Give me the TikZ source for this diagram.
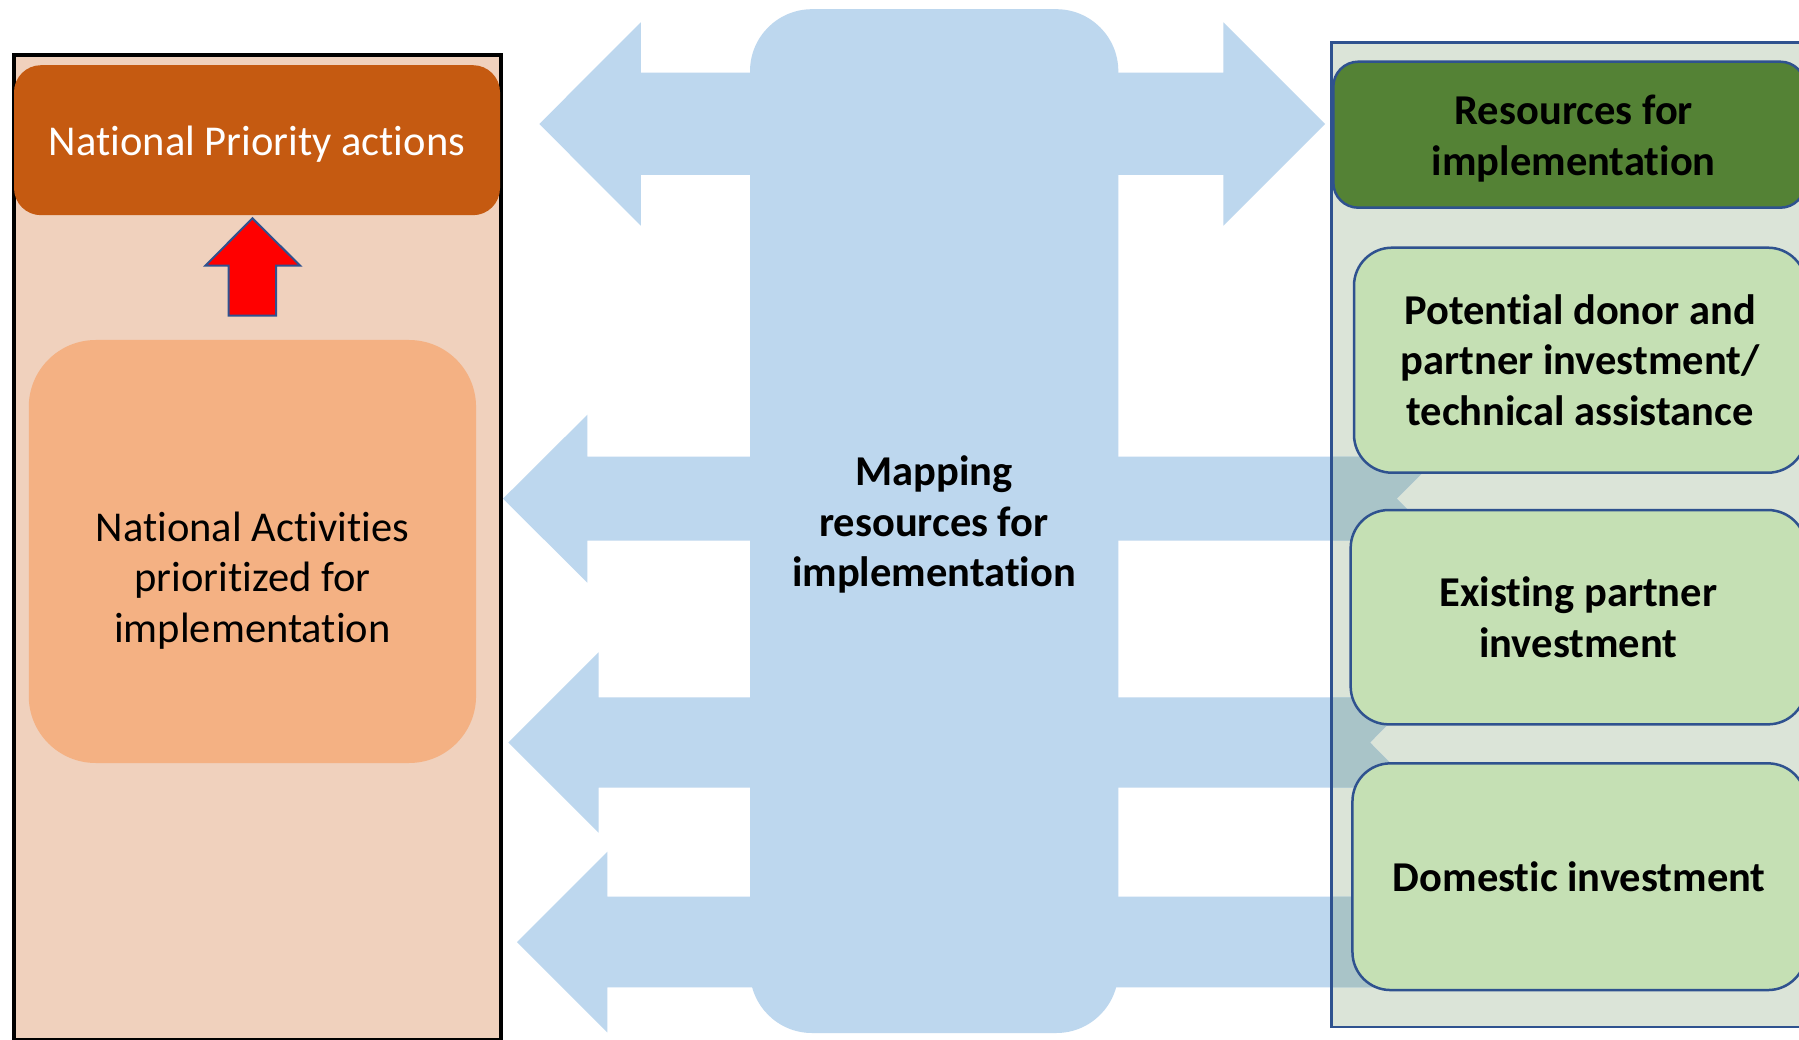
\documentclass[tikz,border=0pt]{standalone}
\usepackage{fontspec}
\setmainfont{Carlito}[Ligatures={NoCommon,NoContextual}]
\definecolor{panelfill}{HTML}{F0D1BD}
\definecolor{darkorange}{HTML}{C55A11}
\definecolor{lightorange}{HTML}{F4B183}
\definecolor{mapblue}{HTML}{BDD7EE}
\definecolor{overlapc}{HTML}{A9C4C8}
\definecolor{contfill}{HTML}{DBE4D8}
\definecolor{darkgreen}{HTML}{548235}
\definecolor{lightgreen}{HTML}{C5E0B4}
\definecolor{bordblue}{HTML}{2F528F}
\begin{document}
\begin{tikzpicture}[x=1pt,y=-1pt,
  bigfont/.style={font=\fontsize{42.5}{50.5}\selectfont},
  boldfont/.style={font=\fontsize{42.5}{50.5}\selectfont\bfseries},
  txt/.style={bigfont, align=center, inner sep=0pt},
  btxt/.style={boldfont, align=center, inner sep=0pt},
  plainbox/.style={rectangle, inner sep=0pt, outer sep=0pt},
  greenbox/.style={plainbox, draw=bordblue, line width=2.5pt, fill=lightgreen, rounded corners=38pt, btxt},
  mapfill/.style={fill=mapblue},
  overfill/.style={fill=overlapc}
]
\clip (0,0) rectangle (1799,1040);
\fill[white] (0,0) rectangle (1799,1040);

% ---------- left panel ----------
\node[plainbox, fill=panelfill, draw=black, line width=4pt,
      minimum width=487pt, minimum height=985pt] (panel) at (257.4,547.5) {};
\node[plainbox, fill=darkorange, rounded corners=27pt,
      minimum width=486pt, minimum height=150pt] (priority) at (257,140.2) {};
\node[txt, text=white] (prioritytext) at (257,143.8) {National Priority actions};
\node[plainbox, fill=lightorange, rounded corners=67pt,
      minimum width=447.3pt, minimum height=423pt] (activities) at (252.4,551.5) {};
\node[txt] (activitiestext) at (252.4,580.5) {National Activities\\prioritized for\\implementation};
\draw[fill=red, draw=bordblue, line width=2pt]
  (252.4,218.3) -- (300.2,265.7) -- (276.1,265.7) -- (276.1,315.7)
  -- (228.7,315.7) -- (228.7,265.7) -- (205.4,265.7) -- cycle;

% ---------- right container background ----------
\node[plainbox, fill=contfill, minimum width=500pt, minimum height=984.3pt] (container) at (1581.7,534.85) {};

% ---------- blue mapping shape ----------
\def\sidearrows{
  (503,498.7) -- (587.4,414.7) -- (587.4,456.7) -- (1438.7,456.7) -- (1396.7,498.7)
  -- (1438.7,540.7) -- (587.4,540.7) -- (587.4,582.7) -- cycle
  (508.3,742.5) -- (598.5,652.3) -- (598.5,697.3) -- (1415,697.3) -- (1370,742.5)
  -- (1415,787.7) -- (598.5,787.7) -- (598.5,832.7) -- cycle
  (517,942) -- (607.3,851.7) -- (607.3,896.7) -- (1445,896.7) -- (1400,942)
  -- (1445,987.3) -- (607.3,987.3) -- (607.3,1032.3) -- cycle}
\node[plainbox, mapfill, rounded corners=62pt, minimum width=368.3pt, minimum height=1023.8pt] (mapping) at (934.15,521.1) {};
\fill[mapfill] (539.3,124) -- (640.8,22.3) -- (640.8,72.7) -- (1223.3,72.7) -- (1223.3,22.3)
  -- (1325,124) -- (1223.3,225.7) -- (1223.3,175) -- (640.8,175) -- (640.8,225.7) -- cycle;
\fill[mapfill] \sidearrows;
\begin{scope}
  \clip (1331.7,42.7) rectangle (1840,1027);
  \fill[overfill] \sidearrows;
\end{scope}
\node[btxt] (mappingtext) at (934,524.5) {Mapping\\resources for\\implementation};

% ---------- right container border and boxes ----------
\draw[bordblue, line width=2.5pt] (container.north west) rectangle (container.south east);
\node[plainbox, draw=bordblue, line width=2.5pt, fill=darkgreen, rounded corners=25pt,
      minimum width=472pt, minimum height=146pt] (resources) at (1569.3,134.7) {};
\node[btxt] (resourcestext) at (1573.8,138.8) {Resources for\\implementation};
\node[greenbox, minimum width=452pt, minimum height=225pt] (donor) at (1580,360.2)
  {Potential donor and\\partner investment/\\technical assistance};
\node[greenbox, minimum width=455.3pt, minimum height=214.3pt] (existing) at (1578.3,617.2)
  {Existing partner\\investment};
\node[greenbox, minimum width=453.5pt, minimum height=226.7pt] (domestic) at (1579.2,876.7)
  {Domestic investment};
\end{tikzpicture}
\end{document}
